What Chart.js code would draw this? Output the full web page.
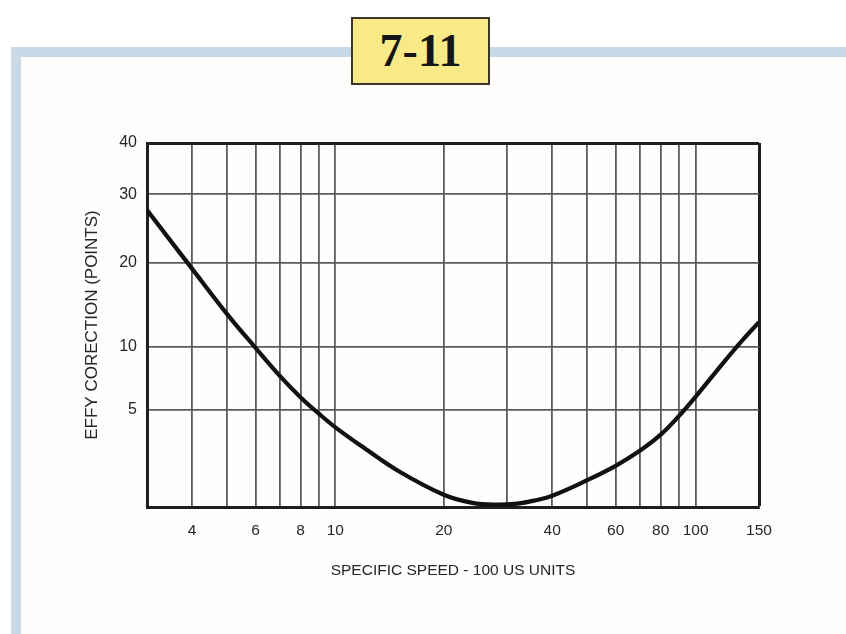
<!DOCTYPE html>
<html>
<head>
<meta charset="utf-8">
<script src="https://cdn.jsdelivr.net/npm/chart.js@4/dist/chart.umd.min.js"></script>
<style>
  html, body { margin: 0; padding: 0; background: #ffffff; }
  body { width: 846px; height: 634px; position: relative; overflow: hidden; }
  #frame {
    position: absolute; left: 11px; top: 47px; right: 0; bottom: 0;
    border-left: 10px solid #c8dae8; border-top: 10px solid #c8dae8;
    background: #fffefc;
  }
  #chart { position: absolute; left: 0; top: 0; }
  #tag {
    position: absolute; left: 351px; top: 17px; width: 139px; height: 68px;
    box-sizing: border-box; border: 2px solid #3a372a; background: #f8ea86;
    font: bold 46px "Liberation Serif", "Times New Roman", serif; color: #151515;
    text-align: center; line-height: 64px;
  }
</style>
</head>
<body>
<div id="frame"></div>
<canvas id="chart" width="846" height="634"></canvas>
<div id="tag">7-11</div>
<script>
// Efficiency correction (points) against specific speed (x100, US units)
const specificSpeed  = [3, 4, 5, 6, 7, 8, 9, 10, 12, 15, 20, 24, 28, 32, 36, 40, 50, 60, 70, 80, 90, 100, 120, 135, 150];
const effyCorrection = [27.7, 19.3, 13.9, 9.9, 7.7, 6.0, 4.8, 4.1, 3.05, 1.84, 0.63, 0.21, 0.12, 0.175, 0.35, 0.58, 1.38, 2.12, 2.89, 3.72, 4.69, 6.03, 8.79, 10.76, 12.9];

// Axis ruling
const xGridValues  = [4, 5, 6, 7, 8, 9, 10, 20, 30, 40, 50, 60, 70, 80, 90, 100, 150];
const xTickLabels  = [4, 6, 8, 10, 20, 40, 60, 80, 100, 150];
const yTickValues  = [5, 10, 20, 30, 40];
const yScaleBreaks = [0, 5, 10, 20, 30, 40];

// The printed correction axis is not linear: each break value sits at a fixed
// fraction of the axis height, and values in between are interpolated linearly.
class BreakScale extends Chart.LinearScale {
  static id = 'breaks';
  static defaults = {};
  determineDataLimits() {
    const b = this.options.breaks;
    this.min = b[0];
    this.max = b[b.length - 1];
  }
  buildTicks() {
    return this.options.tickValues.map(v => ({ value: v }));
  }
  _toDecimal(v) {
    const b = this.options.breaks, s = this.options.stops;
    if (v <= b[0]) return s[0] + (v - b[0]) * (s[1] - s[0]) / (b[1] - b[0]);
    for (let i = 1; i < b.length; i++) {
      if (v <= b[i] || i === b.length - 1) {
        return s[i - 1] + (v - b[i - 1]) * (s[i] - s[i - 1]) / (b[i] - b[i - 1]);
      }
    }
  }
  _fromDecimal(d) {
    const b = this.options.breaks, s = this.options.stops;
    for (let i = 1; i < s.length; i++) {
      if (d <= s[i] || i === s.length - 1) {
        return b[i - 1] + (d - s[i - 1]) * (b[i] - b[i - 1]) / (s[i] - s[i - 1]);
      }
    }
  }
  getPixelForValue(value) {
    return this.getPixelForDecimal(this._toDecimal(value));
  }
  getValueForPixel(pixel) {
    return this._fromDecimal(this.getDecimalForPixel(pixel));
  }
}
Chart.register(BreakScale);

const FONT = "'Liberation Sans', Arial, Helvetica, sans-serif";
const GRID = '#5c5c5c';
const EDGE = '#1e1e1e';
const TEXT = '#262626';

new Chart(document.getElementById('chart'), {
  type: 'line',
  data: {
    datasets: [{
      data: specificSpeed.map((x, i) => ({ x: x, y: effyCorrection[i] })),
      borderColor: '#111111',
      borderWidth: 4.2,
      pointRadius: 0,
      tension: 0.4,
      fill: false
    }]
  },
  options: {
    responsive: false,
    animation: false,
    events: [],
    layout: { padding: { left: 82, top: 143, right: 87, bottom: 0 } },
    plugins: { legend: { display: false }, tooltip: { enabled: false } },
    scales: {
      x: {
        type: 'logarithmic',
        min: 3,
        max: 150,
        afterBuildTicks: s => { s.ticks = xGridValues.map(v => ({ value: v })); },
        afterFit: s => { s.height = 127; },
        grid: {
          color: ctx => (ctx.tick && ctx.tick.value === 150) ? EDGE : GRID,
          lineWidth: ctx => (ctx.tick && ctx.tick.value === 150) ? 3 : 1.8,
          drawTicks: false
        },
        border: { color: EDGE, width: 3 },
        ticks: {
          autoSkip: false,
          maxRotation: 0,
          padding: 14,
          color: TEXT,
          font: { family: FONT, size: 15.5 },
          callback: v => xTickLabels.includes(v) ? String(v) : ''
        },
        title: {
          display: true,
          text: 'SPECIFIC SPEED - 100 US UNITS',
          color: TEXT,
          font: { family: FONT, size: 15.5 },
          padding: { top: 0, bottom: 54 }
        }
      },
      y: {
        type: 'breaks',
        breaks: yScaleBreaks,
        stops: [0, 0.267, 0.441, 0.671, 0.859, 1],
        tickValues: yTickValues,
        afterFit: s => { s.width = 65; },
        grid: {
          color: ctx => (ctx.tick && ctx.tick.value === 40) ? EDGE : GRID,
          lineWidth: ctx => (ctx.tick && ctx.tick.value === 40) ? 3 : 1.8,
          drawTicks: false
        },
        border: { color: EDGE, width: 3 },
        ticks: {
          padding: 10,
          color: TEXT,
          font: { family: FONT, size: 16 },
          callback: v => String(v)
        },
        title: {
          display: true,
          text: 'EFFY CORECTION (POINTS)',
          color: TEXT,
          font: { family: FONT, size: 17 },
          padding: { top: 0, bottom: 0 }
        }
      }
    }
  }
});
</script>
</body>
</html>
